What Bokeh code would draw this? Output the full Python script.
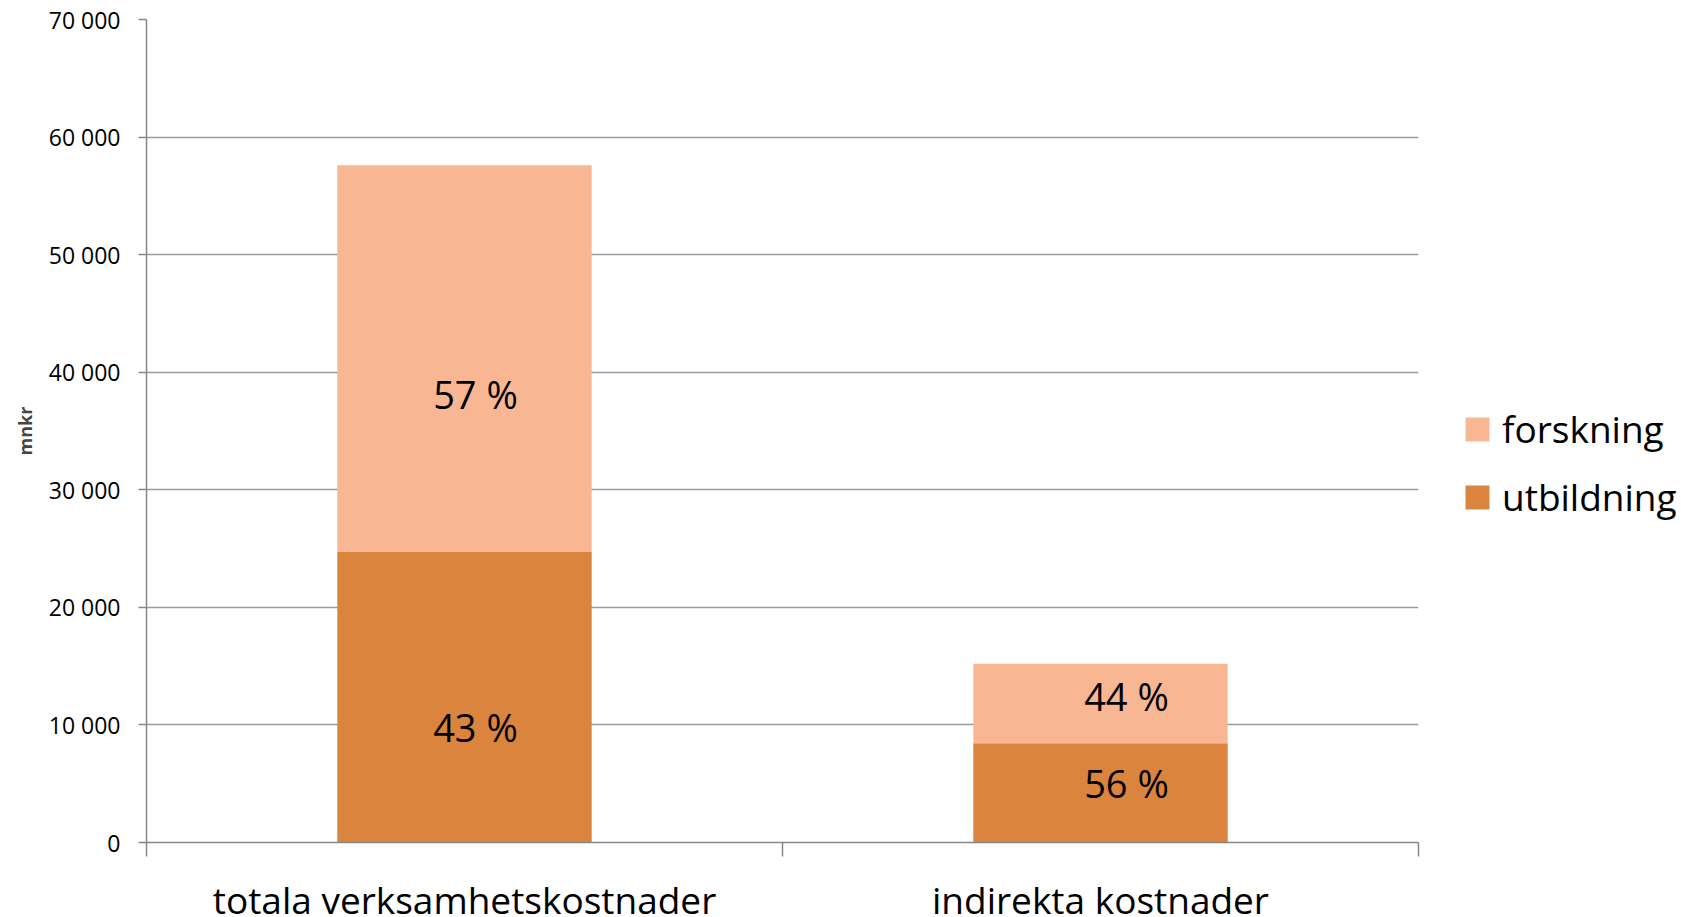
from bokeh.plotting import figure
from bokeh.models import (Range1d, FixedTicker, Legend, LegendItem, ColumnDataSource)
from bokeh.core.properties import value
from bokeh.embed import file_html
from bokeh.resources import INLINE

categories = ["totala verksamhetskostnader", "indirekta kostnader"]
utbildning = [24700, 8450]
forskning = [32900, 6750]
pct_utbildning = ["43 %", "56 %"]
pct_forskning = ["57 %", "44 %"]
y_ticks = [0, 10000, 20000, 30000, 40000, 50000, 60000, 70000]

FONT = "Open Sans"
C_FORSK = "#F9B692"
C_UTB = "#DB843D"
GRID = "#9A9A9A"
AXIS = "#868686"

xs = [i + 0.5 for i in range(len(categories))]
src = ColumnDataSource(dict(x=xs, utbildning=utbildning, forskning=forskning))

p = figure(frame_width=1272, frame_height=823,
           x_range=Range1d(0, len(categories)), y_range=Range1d(0, 70000),
           output_backend="svg", toolbar_location=None,
           min_border_left=146, min_border_top=19, min_border_bottom=73,
           min_border_right=0)
p.outline_line_color = None

r = p.vbar_stack(["utbildning", "forskning"], x="x", width=0.4, source=src,
                 color=[C_UTB, C_FORSK], line_color=None)

# percent labels
utb_mid = [u / 2 for u in utbildning]
for_mid = [u + f / 2 for u, f in zip(utbildning, forskning)]
x_off = [11, 26]
p.text(x=xs, y=utb_mid, text=pct_utbildning, x_offset=x_off, y_offset=[30, -10],
       text_font=value(FONT), text_font_size="38px", text_color="#000000",
       text_align="center", text_baseline="middle")
p.text(x=xs, y=for_mid, text=pct_forskning, x_offset=x_off, y_offset=[35, -7],
       text_font=value(FONT), text_font_size="38px", text_color="#000000",
       text_align="center", text_baseline="middle")

# y axis
ya = p.yaxis[0]
ya.ticker = FixedTicker(ticks=y_ticks)
ya.major_label_overrides = {t: f"{t:,}".replace(",", " ") for t in y_ticks}
ya.major_label_text_font = FONT
ya.major_label_text_font_size = "23px"
ya.major_label_text_color = "#000000"
ya.major_tick_out = 8
ya.major_tick_in = 0
ya.minor_tick_line_color = None
ya.axis_line_color = AXIS
ya.axis_line_width = 1.5
ya.major_tick_line_color = AXIS
ya.major_tick_line_width = 1.5
ya.major_label_standoff = 18
ya.axis_label = "mnkr"
ya.axis_label_text_font = FONT
ya.axis_label_text_font_style = "bold"
ya.axis_label_text_font_size = "18px"
ya.axis_label_standoff = 9

# x axis
xa = p.xaxis[0]
xa.ticker = FixedTicker(ticks=xs, minor_ticks=list(range(len(categories) + 1)))
xa.major_label_overrides = {x: c for x, c in zip(xs, categories)}
xa.major_label_text_font = FONT
xa.major_label_text_font_size = "37px"
xa.major_label_text_color = "#000000"
xa.major_tick_out = 0
xa.major_tick_in = 0
xa.major_tick_line_color = None
xa.minor_tick_out = 14
xa.minor_tick_in = 0
xa.minor_tick_line_color = AXIS
xa.minor_tick_line_width = 1.5
xa.axis_line_color = AXIS
xa.axis_line_width = 1.5
xa.major_label_standoff = 17

p.xgrid.grid_line_color = None
p.ygrid.ticker = FixedTicker(ticks=y_ticks[1:])
p.ygrid.grid_line_color = GRID
p.ygrid.grid_line_width = 1.5

legend = Legend(items=[LegendItem(label="forskning", renderers=[r[1]]),
                       LegendItem(label="utbildning", renderers=[r[0]])],
                location=(44, 320), orientation="vertical")
legend.border_line_color = None
legend.background_fill_alpha = 0
legend.glyph_width = 30
legend.glyph_height = 30
legend.label_standoff = 10
legend.padding = 0
legend.margin = 0
legend.spacing = 17
legend.label_height = 45
legend.label_text_font = FONT
legend.label_text_font_size = "37px"
legend.label_text_color = "#000000"
p.add_layout(legend, "right")

open("out.html", "w").write(file_html(p, INLINE))
